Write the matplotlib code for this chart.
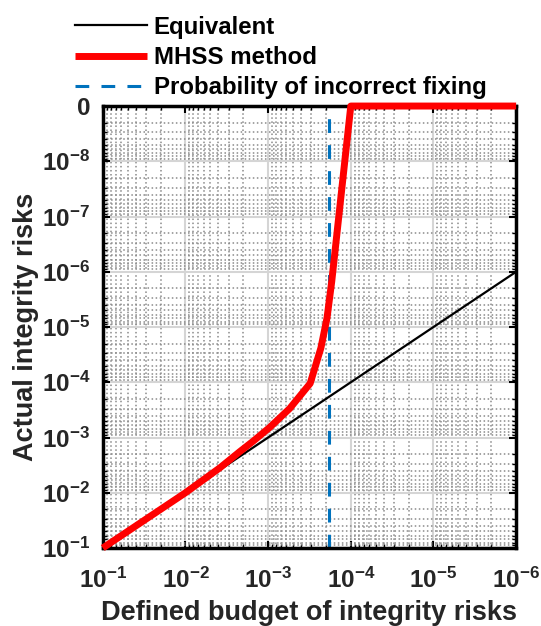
import numpy as np
import matplotlib.pyplot as plt
from matplotlib.ticker import FixedLocator, FuncFormatter, LogLocator

plt.rcParams['font.family'] = ['Liberation Sans', 'DejaVu Sans']
plt.rcParams['font.weight'] = 'bold'
plt.rcParams['mathtext.fontset'] = 'custom'
plt.rcParams['mathtext.rm'] = 'Liberation Sans:bold'
plt.rcParams['mathtext.bf'] = 'Liberation Sans:bold'
plt.rcParams['mathtext.default'] = 'rm'

# data
equiv_budget = [1e-1, 1e-6]
equiv_actual = [1e-1, 1e-6]

mhss_budget = [1e-1, 1e-2, 3.8e-3, 2.2e-3, 1.5e-3, 9.5e-4, 5.5e-4, 3.1e-4,
               2.3e-4, 1.94e-4, 1.7e-4, 1.0e-4, 1e-6]
mhss_actual = [1e-1, 1e-2, 3.5e-3, 1.8e-3, 1.15e-3, 6.5e-4, 3.0e-4, 1.05e-4,
               2.4e-5, 6.9e-6, 1.5e-6, 1e-9, 1e-9]

p_incorrect_fix = 1.82e-4

x_ticks = [1e-1, 1e-2, 1e-3, 1e-4, 1e-5, 1e-6]
y_ticks = [1e-1, 1e-2, 1e-3, 1e-4, 1e-5, 1e-6, 1e-7, 1e-8, 1e-9]

txt_col = '#262626'


def fmt(v, pos):
    e = int(round(np.log10(v)))
    if e == -9:
        return '0'
    return r'$10^{%d}$' % e


fig = plt.figure(figsize=(5.41, 6.26), dpi=100)
ax = fig.add_axes([0.190, 0.1246, 0.764, 0.706])

ax.plot(equiv_budget, equiv_actual, color='black', lw=1.6, label='Equivalent', zorder=3)
ax.plot(mhss_budget, mhss_actual, color='#ff0000', lw=5, label='MHSS method',
        zorder=4, clip_on=False, solid_capstyle='butt')
ax.axvline(p_incorrect_fix, color='#0072BD', lw=2.2, dashes=(4.5, 4),
           label='Probability of incorrect fixing', zorder=2)

ax.set_xscale('log')
ax.set_yscale('log')
ax.set_xlim(1e-1, 1e-6)
ax.set_ylim(1e-1, 1e-9)

ax.xaxis.set_major_locator(FixedLocator(x_ticks))
ax.yaxis.set_major_locator(FixedLocator(y_ticks))
ax.xaxis.set_minor_locator(LogLocator(base=10, subs=np.arange(2, 10), numticks=20))
ax.yaxis.set_minor_locator(LogLocator(base=10, subs=np.arange(2, 10), numticks=20))
ax.xaxis.set_major_formatter(FuncFormatter(fmt))
ax.yaxis.set_major_formatter(FuncFormatter(fmt))
ax.xaxis.set_minor_formatter(FuncFormatter(lambda v, p: ''))
ax.yaxis.set_minor_formatter(FuncFormatter(lambda v, p: ''))

ax.tick_params(which='both', direction='in', top=True, right=True,
               labelsize=17.5, labelcolor=txt_col)
ax.tick_params(which='major', length=5, width=1.5)
ax.tick_params(axis='x', which='major', pad=14)
ax.tick_params(axis='y', which='major', pad=9)
ax.tick_params(which='minor', length=3, width=1)

ax.grid(True, which='major', color='#d5d5d5', lw=1.5, ls='-')
ax.grid(True, which='minor', color='#8a8a8a', lw=1.1, ls=':')
ax.set_axisbelow(True)

for s in ax.spines.values():
    s.set_linewidth(2.5)

ax.set_xlabel('Defined budget of integrity risks', fontsize=19.5, fontweight='bold',
              color=txt_col, labelpad=5)
ax.set_ylabel('Actual integrity risks', fontsize=19.5, fontweight='bold',
              color=txt_col, labelpad=2)

fig.legend(loc='upper left', bbox_to_anchor=(0.12, 0.99), frameon=False,
           fontsize=17.3, handlelength=3.0, handletextpad=0.3, labelspacing=0.3,
           borderaxespad=0)

fig.savefig('out.png', dpi=100)
